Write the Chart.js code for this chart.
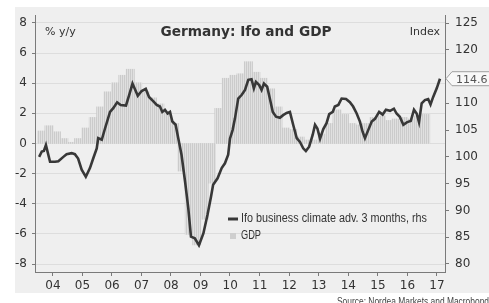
<!DOCTYPE html>
<html lang="en">
<head>
  <meta charset="UTF-8">
  <title>Germany: Ifo and GDP</title>
  <script src="https://cdn.jsdelivr.net/npm/chart.js"></script>
  <style>
    body {
      margin: 0;
      background: #ffffff;
    }
    #chart {
      display: block;
    }
  </style>
</head>
<body>
  <canvas id="chart" width="489" height="303"></canvas>

  <script>
    // Ifo business climate (index, shifted 3 months ahead)
    const ifoDates = [
      2004.04, 2004.13, 2004.20, 2004.27, 2004.41, 2004.58, 2004.69, 2004.86, 2004.97,
      2005.14, 2005.25, 2005.36, 2005.48, 2005.62, 2005.76, 2005.87, 2005.99,
      2006.04, 2006.16, 2006.27, 2006.44, 2006.55, 2006.68, 2006.80, 2006.98,
      2007.09, 2007.20, 2007.38, 2007.51, 2007.65, 2007.76, 2007.90,
      2008.02, 2008.13, 2008.21, 2008.30, 2008.39, 2008.47, 2008.55, 2008.66, 2008.75, 2008.86, 2008.98,
      2009.09, 2009.18, 2009.31, 2009.45, 2009.60, 2009.74, 2009.86, 2009.93,
      2010.08, 2010.22, 2010.33, 2010.44, 2010.50, 2010.59, 2010.67, 2010.78, 2010.90,
      2011.01, 2011.12, 2011.23, 2011.31, 2011.38, 2011.49, 2011.57, 2011.65, 2011.76, 2011.85, 2011.95,
      2012.06, 2012.19, 2012.30, 2012.42, 2012.53, 2012.64, 2012.76, 2012.87, 2012.98,
      2013.07, 2013.18, 2013.30, 2013.38, 2013.46, 2013.55, 2013.66, 2013.77, 2013.86, 2013.98,
      2014.05, 2014.17, 2014.28, 2014.43, 2014.56, 2014.67, 2014.79, 2014.90, 2014.99,
      2015.07, 2015.18, 2015.30, 2015.41, 2015.55, 2015.67, 2015.78, 2015.92,
      2016.05, 2016.14, 2016.25, 2016.37, 2016.50, 2016.62, 2016.73, 2016.82, 2016.90, 2016.99,
      2017.10, 2017.21, 2017.29, 2017.38, 2017.50, 2017.61
    ];
    const ifoValues = [
      100.0, 101.0, 101.1, 102.2, 99.1, 99.1, 99.2, 100.0, 100.5,
      100.7, 100.5, 99.7, 97.6, 96.3, 97.9, 99.7, 101.6,
      103.5, 103.2, 105.3, 108.4, 109.1, 110.2, 109.7, 109.6,
      111.6, 113.7, 111.4, 112.3, 112.7, 111.2, 110.4,
      109.7, 109.4, 108.4, 108.8, 108.1, 108.4, 106.6, 106.0, 103.5, 100.4, 95.4,
      90.4, 85.1, 84.8, 83.5, 85.7, 89.2, 92.6, 94.8,
      96.0, 97.9, 98.8, 100.4, 103.4, 105.0, 107.2, 110.9, 111.6,
      112.5, 114.4, 114.5, 112.8, 114.0, 113.4, 112.5, 113.7, 113.1, 110.9, 108.4,
      107.5, 107.3, 107.8, 108.2, 108.4, 106.0, 103.5, 102.8, 101.6,
      101.1, 101.9, 104.1, 106.0, 105.3, 103.4, 105.2, 106.3, 108.0, 108.4,
      109.4, 109.7, 110.9, 110.8, 110.2, 109.4, 108.1, 106.6, 104.7,
      103.5, 105.0, 106.6, 107.1, 108.4, 107.9, 108.8, 108.6,
      109.0, 108.1, 107.5, 106.0, 106.5, 106.7, 108.8, 108.1, 106.5, 110.0,
      110.6, 110.8, 109.8, 111.2, 112.8, 114.6
    ];

    // GDP, % y/y, quarterly
    const gdpQuarters = [
      '2004Q1', '2004Q2', '2004Q3', '2004Q4', '2005Q1', '2005Q2', '2005Q3', '2005Q4',
      '2006Q1', '2006Q2', '2006Q3', '2006Q4', '2007Q1', '2007Q2', '2007Q3', '2007Q4',
      '2008Q1', '2008Q2', '2008Q3', '2008Q4', '2009Q1', '2009Q2', '2009Q3', '2009Q4',
      '2010Q1', '2010Q2', '2010Q3', '2010Q4', '2011Q1', '2011Q2', '2011Q3', '2011Q4',
      '2012Q1', '2012Q2', '2012Q3', '2012Q4', '2013Q1', '2013Q2', '2013Q3', '2013Q4',
      '2014Q1', '2014Q2', '2014Q3', '2014Q4', '2015Q1', '2015Q2', '2015Q3', '2015Q4',
      '2016Q1', '2016Q2', '2016Q3', '2016Q4', '2017Q1'
    ];
    const gdpValues = [
      0.8, 1.15, 0.75, 0.3, 0.05, 0.3, 1.0, 1.7,
      2.4, 3.4, 4.0, 4.5, 4.9, 4.0, 3.4, 3.0,
      2.6, 2.1, 1.3, -1.8, -6.0, -6.7, -5.0, -2.6,
      2.3, 4.3, 4.5, 4.6, 5.4, 4.7, 4.3, 3.6,
      2.4, 1.0, 0.9, 0.4, 0.2, 0.2, 0.6, 1.3,
      2.2, 1.9, 1.3, 1.2, 1.3, 1.7, 1.8, 1.5,
      1.6, 1.7, 1.6, 1.8, 1.9
    ];

    // axis ticks
    const yearTicks = [2004, 2005, 2006, 2007, 2008, 2009, 2010, 2011, 2012, 2013, 2014, 2015, 2016, 2017];
    const leftTicks = [-8, -6, -4, -2, 0, 2, 4, 6, 8];
    const rightTicks = [80, 85, 90, 95, 100, 105, 110, 120, 125]; // 115 sits under the value flag

    const TEXT = '#333333';
    const AXIS = '#7a7a7a';

    function quarterToYear(q) {
      return parseInt(q.slice(0, 4)) + (parseInt(q.slice(5)) - 0.5) / 4;
    }

    // hatched grey fill for the GDP bars
    const hatch = document.createElement('canvas');
    hatch.width = 2;
    hatch.height = 1;
    const hctx = hatch.getContext('2d');
    hctx.fillStyle = '#cbcbcb';
    hctx.fillRect(0, 0, 1, 1);
    hctx.fillStyle = '#e0e0e0';
    hctx.fillRect(1, 0, 1, 1);
    const gdpFill = hctx.createPattern(hatch, 'repeat');

    // background panel, title, legend, value flag, source
    const decorations = {
      id: 'decorations',
      beforeDraw(chart) {
        const ctx = chart.ctx;
        ctx.save();
        ctx.fillStyle = '#ffffff';
        ctx.fillRect(0, 0, chart.width, chart.height);
        ctx.fillStyle = '#efefef';
        ctx.fillRect(15, 7, chart.width - 15, 286);
        ctx.restore();
      },
      afterDraw(chart) {
        const ctx = chart.ctx;
        const yR = chart.scales.yR;
        ctx.save();

        ctx.fillStyle = TEXT;
        ctx.textBaseline = 'middle';
        ctx.font = 'bold 13.7px "DejaVu Sans"';
        ctx.textAlign = 'center';
        ctx.fillText('Germany: Ifo and GDP', 246, 32);

        ctx.font = '11px "DejaVu Sans"';
        ctx.textAlign = 'left';
        ctx.fillText('% y/y', 45, 32);
        ctx.textAlign = 'right';
        ctx.fillText('Index', 440, 32);

        // legend inside the plot
        const lineSet = chart.data.datasets[0];
        const barSet = chart.data.datasets[1];
        ctx.strokeStyle = lineSet.borderColor;
        ctx.lineWidth = 3;
        ctx.beginPath();
        ctx.moveTo(228, 219);
        ctx.lineTo(238, 219);
        ctx.stroke();
        ctx.fillStyle = '#cfcfcf';
        ctx.fillRect(230, 233, 6, 6);
        ctx.fillStyle = TEXT;
        ctx.textAlign = 'left';
        ctx.font = '12px "Liberation Sans"';
        ctx.fillText(lineSet.label, 241, 219, 186);
        ctx.fillText(barSet.label, 241, 236, 20);

        // flag with the latest Ifo reading
        const last = ifoValues[ifoValues.length - 1];
        const py = yR.getPixelForValue(last);
        const px = chart.chartArea.right + 1;
        ctx.beginPath();
        ctx.moveTo(px, py);
        ctx.lineTo(px + 6, py - 7);
        ctx.lineTo(chart.width + 2, py - 7);
        ctx.lineTo(chart.width + 2, py + 7);
        ctx.lineTo(px + 6, py + 7);
        ctx.closePath();
        ctx.fillStyle = '#f8f8f8';
        ctx.fill();
        ctx.strokeStyle = '#a0a0a0';
        ctx.lineWidth = 1;
        ctx.stroke();
        ctx.fillStyle = '#555555';
        ctx.font = '11px "DejaVu Sans"';
        ctx.fillText(last.toFixed(1), px + 10, py + 1);

        ctx.fillStyle = '#444444';
        ctx.font = '10px "Liberation Sans"';
        ctx.textBaseline = 'alphabetic';
        ctx.fillText('Source: Nordea Markets and Macrobond', 337, 305, 152);
        ctx.restore();
      }
    };

    new Chart(document.getElementById('chart'), {
      type: 'bar',
      data: {
        datasets: [
          {
            type: 'line',
            label: 'Ifo business climate adv. 3 months, rhs',
            data: ifoDates.map((d, i) => ({ x: d, y: ifoValues[i] })),
            yAxisID: 'yR',
            borderColor: '#383838',
            borderWidth: 2.6,
            pointRadius: 0,
            tension: 0,
            order: 0
          },
          {
            type: 'bar',
            label: 'GDP',
            data: gdpQuarters.map((q, i) => ({ x: quarterToYear(q), y: gdpValues[i] })),
            yAxisID: 'yL',
            backgroundColor: gdpFill,
            borderWidth: 0,
            inflateAmount: 0.8,
            barPercentage: 1,
            categoryPercentage: 1,
            order: 1
          }
        ]
      },
      options: {
        responsive: false,
        animation: false,
        devicePixelRatio: 1,
        layout: { padding: { top: 15, bottom: 9, left: 0, right: 0 } },
        plugins: {
          legend: { display: false },
          tooltip: { enabled: false }
        },
        scales: {
          x: {
            type: 'linear',
            min: 2003.9,
            max: 2017.78,
            offset: false,
            afterBuildTicks: scale => { scale.ticks = yearTicks.map(v => ({ value: v })); },
            afterFit: scale => { scale.height = 22; },
            ticks: {
              autoSkip: false,
              maxRotation: 0,
              labelOffset: 15,
              padding: 3,
              color: TEXT,
              font: { family: 'DejaVu Sans', size: 12 },
              callback: v => String(v).slice(2)
            },
            grid: { drawOnChartArea: false, drawTicks: true, tickLength: 4, tickColor: AXIS },
            border: { color: AXIS }
          },
          yL: {
            position: 'left',
            min: -8.53,
            max: 8.53,
            afterBuildTicks: scale => { scale.ticks = leftTicks.map(v => ({ value: v })); },
            afterFit: scale => { scale.width = 35; },
            ticks: {
              padding: 5,
              color: TEXT,
              font: { family: 'DejaVu Sans', size: 12 }
            },
            grid: { color: '#dddddd', tickColor: AXIS, tickLength: 3 },
            border: { color: AXIS }
          },
          yR: {
            position: 'right',
            min: 78.5,
            max: 126.5,
            afterBuildTicks: scale => { scale.ticks = rightTicks.map(v => ({ value: v })); },
            afterFit: scale => { scale.width = 44; },
            ticks: {
              padding: 6,
              color: TEXT,
              font: { family: 'DejaVu Sans', size: 12 }
            },
            grid: { drawOnChartArea: false, tickColor: AXIS, tickLength: 4 },
            border: { color: AXIS }
          }
        }
      },
      plugins: [decorations]
    });
  </script>
</body>
</html>
